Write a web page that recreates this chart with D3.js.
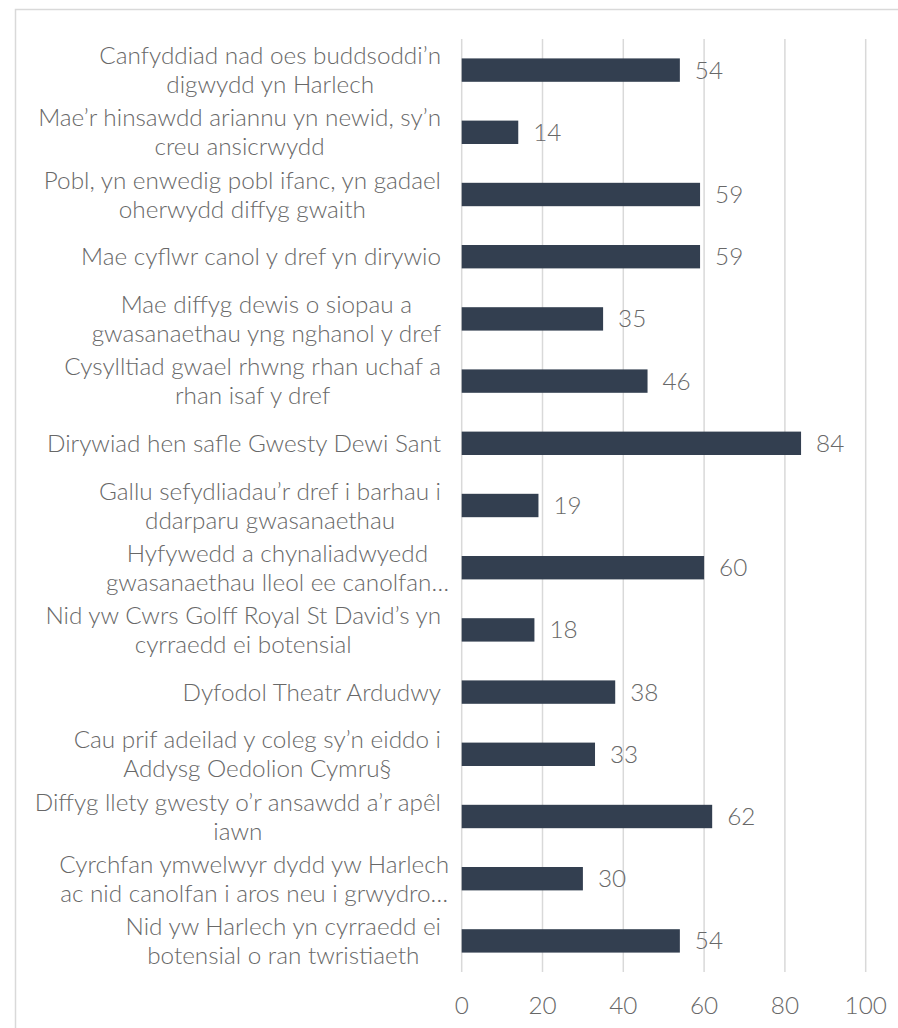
<!DOCTYPE html>
<html><head><meta charset="utf-8">
<script src="https://cdn.jsdelivr.net/npm/d3@7"></script>
<style>
html,body{margin:0;padding:0;background:#fff;overflow:hidden}
text{font-family:"Lato Light",Lato,"Open Sans",sans-serif;font-weight:300;fill:#686868}
</style></head>
<body><svg id="c" width="898" height="1028"></svg>
<script>
const categories = [
 ["Canfyddiad nad oes buddsoddi’n","digwydd yn Harlech"],
 ["Mae’r hinsawdd ariannu yn newid, sy’n","creu ansicrwydd"],
 ["Pobl, yn enwedig pobl ifanc, yn gadael","oherwydd diffyg gwaith"],
 ["Mae cyflwr canol y dref yn dirywio"],
 ["Mae diffyg dewis o siopau a","gwasanaethau yng nghanol y dref"],
 ["Cysylltiad gwael rhwng rhan uchaf a","rhan isaf y dref"],
 ["Dirywiad hen safle Gwesty Dewi Sant"],
 ["Gallu sefydliadau’r dref i barhau i","ddarparu gwasanaethau"],
 ["Hyfywedd a chynaliadwyedd","gwasanaethau lleol ee canolfan…"],
 ["Nid yw Cwrs Golff Royal St David’s yn","cyrraedd ei botensial"],
 ["Dyfodol Theatr Ardudwy"],
 ["Cau prif adeilad y coleg sy’n eiddo i","Addysg Oedolion Cymru§"],
 ["Diffyg llety gwesty o’r ansawdd a’r apêl","iawn"],
 ["Cyrchfan ymwelwyr dydd yw Harlech","ac nid canolfan i aros neu i grwydro…"],
 ["Nid yw Harlech yn cyrraedd ei","botensial o ran twristiaeth"]
];
const values = [54,14,59,59,35,46,84,19,60,18,38,33,62,30,54];
const ticks = [0,20,40,60,80,100];

const svg = d3.select("#c");
const FS = 24.3;
// chart border
svg.append("rect").attr("x",15.5).attr("y",9.5).attr("width",900).attr("height",1040)
  .attr("fill","none").attr("stroke","#d9d9d9").attr("stroke-width",1.5);

const x = d3.scaleLinear().domain([0,100]).range([461.7,865.7]);
const y = d3.scaleBand().domain(d3.range(categories.length)).range([39,972]).paddingInner(0.624).paddingOuter(0.312);

// gridlines
svg.append("g").selectAll("line").data(ticks).join("line")
  .attr("x1",d=>x(d)).attr("x2",d=>x(d)).attr("y1",39).attr("y2",972)
  .attr("stroke","#d9d9d9").attr("stroke-width",1.5);

// bars
svg.append("g").selectAll("rect").data(values).join("rect")
  .attr("x",x(0)).attr("y",(d,i)=>y(i)).attr("width",d=>x(d)-x(0)).attr("height",y.bandwidth())
  .attr("fill","#333f50");

// value labels
svg.append("g").selectAll("text").data(values).join("text")
  .attr("x",d=>x(d)+15).attr("y",(d,i)=>y(i)+y.bandwidth()/2)
  .attr("dy","0.35em").attr("font-size",FS).text(d=>d);

// x axis tick labels
svg.append("g").selectAll("text").data(ticks).join("text")
  .attr("x",d=>x(d)).attr("y",1005).attr("dy","0.35em").attr("text-anchor","middle")
  .attr("font-size",FS).text(d=>d);

// category labels
const RIGHT = 441, LH = 29;
const lg = svg.append("g");
categories.forEach((lines,i)=>{
  const cy = y(i)+y.bandwidth()/2;
  const g = lg.append("g");
  const ts = lines.map((l,j)=>g.append("text").attr("font-size",FS).attr("text-anchor","middle")
     .attr("y",cy+(j-(lines.length-1)/2)*LH).attr("dy","0.35em").text(l));
  let maxW = 0, ell=false;
  ts.forEach(t=>{const w=t.node().getComputedTextLength(); if(/…$/.test(t.text())){ell=true;} maxW=Math.max(maxW,w);});
  const cx = RIGHT - maxW/2 + (ell?8:0);
  ts.forEach(t=>t.attr("x",cx));
});
</script></body></html>
